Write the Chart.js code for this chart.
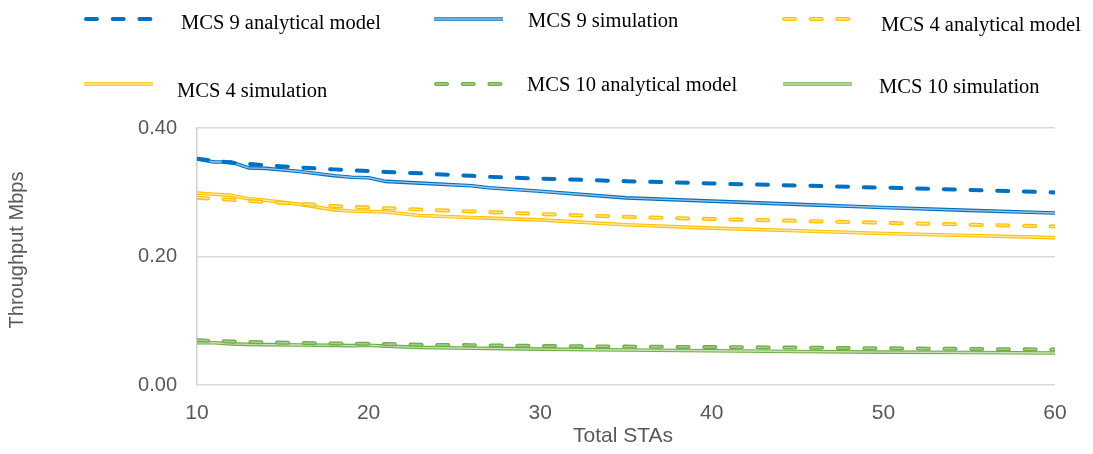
<!DOCTYPE html>
<html>
<head>
<meta charset="utf-8">
<title>Throughput vs Total STAs</title>
<script src="https://cdn.jsdelivr.net/npm/chart.js@4.4.1/dist/chart.umd.min.js"></script>
<style>
  html, body { margin: 0; padding: 0; background: #ffffff; }
  #wrap { width: 1093px; height: 454px; position: relative; }
</style>
</head>
<body>
<div id="wrap"><canvas id="chart" width="1093" height="454"></canvas></div>
<script>
// Number of stations sampled along the x axis
const staCounts = [10, 11, 12, 13, 14, 16, 18, 19, 20, 21, 23, 26, 27, 30, 35, 40, 45, 50, 55, 60];

// Throughput (Mbps) per MCS, analytical model vs simulation
const mcs9Analytical  = [0.352, 0.349, 0.346, 0.344, 0.342, 0.3385, 0.3356, 0.3343, 0.333, 0.3316, 0.3295, 0.3255, 0.324, 0.3213, 0.3172, 0.3137, 0.3105, 0.3072, 0.3035, 0.2998];
const mcs9Simulation  = [0.352, 0.347, 0.347, 0.338, 0.3372, 0.3322, 0.3258, 0.3234, 0.3225, 0.3169, 0.3142, 0.3102, 0.3071, 0.3015, 0.2912, 0.2862, 0.2812, 0.2762, 0.2718, 0.2677];
const mcs4Analytical  = [0.2915, 0.2898, 0.2882, 0.2865, 0.285, 0.282, 0.2785, 0.2773, 0.2761, 0.2751, 0.2731, 0.2701, 0.2691, 0.2661, 0.2617, 0.2583, 0.2554, 0.2525, 0.2496, 0.2468];
const mcs4Simulation  = [0.2987, 0.297, 0.2951, 0.29, 0.2876, 0.2811, 0.2725, 0.2709, 0.27, 0.2692, 0.2638, 0.2608, 0.2597, 0.257, 0.2494, 0.2442, 0.2401, 0.2358, 0.2326, 0.2294];
const mcs10Analytical = [0.0698, 0.0686, 0.0677, 0.0671, 0.0664, 0.0654, 0.0647, 0.0644, 0.064, 0.0637, 0.0626, 0.062, 0.0617, 0.0607, 0.0598, 0.059, 0.0582, 0.0571, 0.0561, 0.0552];
const mcs10Simulation = [0.0657, 0.0657, 0.064, 0.0632, 0.0628, 0.0622, 0.0617, 0.0613, 0.0618, 0.0605, 0.0585, 0.0573, 0.057, 0.0559, 0.0544, 0.0534, 0.0522, 0.0512, 0.0505, 0.0497];

// Axis ticks
const xTickValues = [10, 20, 30, 40, 50, 60];
const yTickValues = [0, 0.2, 0.4];

const xTitle = 'Total STAs';
const yTitle = 'Throughput Mbps';

const BLUE = '#0070C0', YELLOW = '#FFC000', GREEN = '#70AD47';
const DASH = [11, 15.7];

// Series definitions: label, values, and line look
const series = [
  { label: 'MCS 9 analytical model',  values: mcs9Analytical,  kind: 'dash',   color: BLUE,   inner: null },
  { label: 'MCS 9 simulation',        values: mcs9Simulation,  kind: 'double', color: BLUE,   inner: '#9DC3E6' },
  { label: 'MCS 4 analytical model',  values: mcs4Analytical,  kind: 'dash',   color: YELLOW, inner: '#FFE699' },
  { label: 'MCS 4 simulation',        values: mcs4Simulation,  kind: 'double', color: YELLOW, inner: '#FFE699' },
  { label: 'MCS 10 analytical model', values: mcs10Analytical, kind: 'dash',   color: GREEN,  inner: '#A9D18E' },
  { label: 'MCS 10 simulation',       values: mcs10Simulation, kind: 'double', color: GREEN,  inner: '#C5E0B4' }
];

function points(values) {
  return staCounts.map((x, i) => ({ x: x, y: values[i] }));
}

const datasets = [];
series.forEach((s) => {
  const isDash = s.kind === 'dash';
  const base = {
    data: points(s.values),
    pointRadius: 0,
    pointHoverRadius: 0,
    tension: 0,
    fill: false,
    borderCapStyle: isDash ? 'round' : 'butt',
    borderJoinStyle: 'round',
    borderDash: isDash ? DASH : []
  };
  datasets.push(Object.assign({}, base, {
    label: s.label,
    borderColor: s.color,
    borderWidth: isDash ? 4 : 3.6,
    order: isDash ? 4 : 8
  }));
  if (s.inner) {
    datasets.push(Object.assign({}, base, {
      label: s.label + ' (inner)',
      innerStroke: true,
      borderColor: s.inner,
      borderWidth: isDash ? 1.3 : 1.4,
      order: isDash ? 3 : 7
    }));
  }
});

// Legend grid: three columns, two rows
const legendSlots = [
  { x0: 84,  x1: 152, y: 19, tx: 181, ty: 29 },
  { x0: 434, x1: 503, y: 19, tx: 528, ty: 27 },
  { x0: 782, x1: 851, y: 19, tx: 881, ty: 31 },
  { x0: 84,  x1: 153, y: 84, tx: 177, ty: 97 },
  { x0: 434, x1: 502, y: 84, tx: 527, ty: 91 },
  { x0: 783, x1: 852, y: 84, tx: 879, ty: 93 }
];

const customLegend = {
  id: 'customLegend',
  afterDraw(chart) {
    const ctx = chart.ctx;
    ctx.save();
    series.forEach((s, i) => {
      const slot = legendSlots[i];
      const isDash = s.kind === 'dash';
      ctx.beginPath();
      ctx.lineCap = isDash ? 'round' : 'butt';
      ctx.setLineDash(isDash ? DASH : []);
      ctx.lineDashOffset = 0;
      ctx.strokeStyle = s.color;
      ctx.lineWidth = isDash ? 4 : 3.6;
      const start = isDash ? slot.x0 + 2 : slot.x0;
      ctx.moveTo(start, slot.y);
      ctx.lineTo(slot.x1, slot.y);
      ctx.stroke();
      if (s.inner) {
        ctx.beginPath();
        ctx.strokeStyle = s.inner;
        ctx.lineWidth = isDash ? 1.3 : 1.4;
        ctx.moveTo(start, slot.y);
        ctx.lineTo(slot.x1, slot.y);
        ctx.stroke();
      }
      ctx.setLineDash([]);
      ctx.fillStyle = '#000000';
      ctx.font = '20.5px "Liberation Serif", "Times New Roman", serif';
      ctx.textAlign = 'left';
      ctx.textBaseline = 'alphabetic';
      ctx.fillText(s.label, slot.tx, slot.ty);
    });
    ctx.restore();
  }
};

// X tick labels and axis titles
const axisText = {
  id: 'axisText',
  afterDraw(chart) {
    const { ctx, chartArea } = chart;
    const xs = chart.scales.x;
    ctx.save();
    ctx.fillStyle = '#595959';
    ctx.font = '21px "Liberation Sans", Arial, sans-serif';
    ctx.textAlign = 'center';
    ctx.textBaseline = 'alphabetic';
    xTickValues.forEach(v => ctx.fillText(String(v), xs.getPixelForValue(v), 419));
    ctx.fillText(xTitle, (chartArea.left + chartArea.right) / 2 - 3, 442);
    ctx.translate(17, 250);
    ctx.rotate(-Math.PI / 2);
    ctx.textBaseline = 'middle';
    ctx.font = '20px "Liberation Sans", Arial, sans-serif';
    ctx.fillText(yTitle, 0, 0);
    ctx.restore();
  }
};

new Chart(document.getElementById('chart'), {
  type: 'line',
  data: { datasets: datasets },
  plugins: [customLegend, axisText],
  options: {
    responsive: false,
    devicePixelRatio: 1,
    animation: false,
    events: [],
    layout: { padding: { top: 128, right: 38, bottom: 69, left: 0 } },
    plugins: {
      legend: { display: false },
      title: { display: false },
      tooltip: { enabled: false }
    },
    scales: {
      x: {
        type: 'linear',
        min: 10,
        max: 60,
        ticks: { display: false },
        grid: { display: false, drawTicks: false },
        border: { display: false },
        afterFit(scale) { scale.height = 0; }
      },
      y: {
        type: 'linear',
        min: 0,
        max: 0.4,
        afterBuildTicks(scale) { scale.ticks = yTickValues.map(v => ({ value: v })); },
        afterFit(scale) { scale.width = 197; },
        ticks: {
          padding: 20,
          color: '#595959',
          font: { family: '"Liberation Sans", Arial, sans-serif', size: 20 },
          callback: (v) => Number(v).toFixed(2)
        },
        grid: { color: '#D9D9D9', lineWidth: 1.5, drawTicks: false },
        border: { display: true, color: '#D0D0D0', width: 1.5 }
      }
    }
  }
});
</script>
</body>
</html>
